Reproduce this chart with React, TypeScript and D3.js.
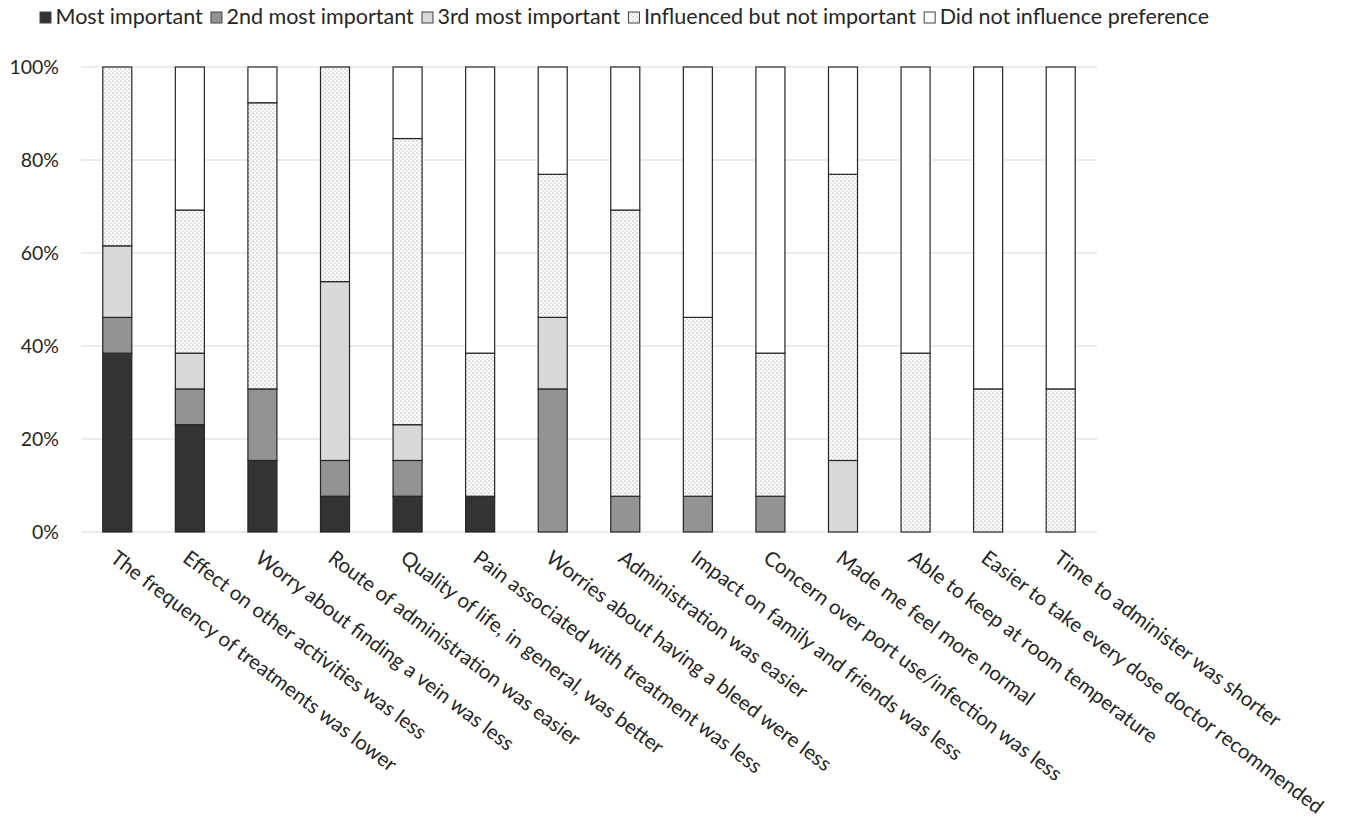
import React from "react";
import * as d3 from "d3";

const categories = [
  "The frequency of treatments was lower",
  "Effect on other activities was less",
  "Worry about finding a vein was less",
  "Route of administration was easier",
  "Quality of life, in general, was better",
  "Pain associated with treatment was less",
  "Worries about having a bleed were less",
  "Administration was easier",
  "Impact on family and friends was less",
  "Concern over port use/infection was less",
  "Made me feel more normal",
  "Able to keep at room temperature",
  "Easier to take every dose doctor recommended",
  "Time to administer was shorter",
];

const seriesNames = [
  "Most important",
  "2nd most important",
  "3rd most important",
  "Influenced but not important",
  "Did not influence preference",
];

// counts out of 13 respondents
const mostImportant = [5, 3, 2, 1, 1, 1, 0, 0, 0, 0, 0, 0, 0, 0];
const secondImportant = [1, 1, 2, 1, 1, 0, 4, 1, 1, 1, 0, 0, 0, 0];
const thirdImportant = [2, 1, 0, 5, 1, 0, 2, 0, 0, 0, 2, 0, 0, 0];
const influenced = [5, 4, 8, 6, 8, 4, 4, 8, 5, 4, 8, 5, 4, 4];
const didNotInfluence = [0, 4, 1, 0, 2, 8, 3, 4, 7, 8, 3, 8, 9, 9];

const yTicks = [0, 0.2, 0.4, 0.6, 0.8, 1];

const fills = ["#333333", "#939393", "#d9d9d9", "url(#dots)", "#ffffff"];

function measure(text: string, size: number): number {
  try {
    const c = document.createElement("canvas").getContext("2d");
    if (c) {
      c.font = `${size}px Lato`;
      return c.measureText(text).width;
    }
  } catch (e) {}
  return text.length * size * 0.5;
}

export default function App() {
  const W = 1353, H = 825;
  const left = 81, right = 1097, top = 67, bottom = 532;
  const series = [mostImportant, secondImportant, thirdImportant, influenced, didNotInfluence];
  const rows = categories.map((c, i) => {
    const total = series.reduce((s, a) => s + a[i], 0);
    const o: any = { cat: c };
    series.forEach((a, k) => (o[seriesNames[k]] = a[i] / total));
    return o;
  });
  const stacked = d3.stack<any>().keys(seriesNames)(rows);
  const x = d3.scaleBand().domain(categories).range([left, right]).paddingInner(0.6).paddingOuter(0.3);
  const y = d3.scaleLinear().domain([0, 1]).range([bottom, top]);
  const fmt = d3.format(".0%");
  const font = "Lato, sans-serif";

  const legendSize = 21.5;
  const legendStart = 39.5, legendEnd = 1209, textOffset = 16;
  const widths = seriesNames.map((n) => measure(n, legendSize));
  const used = widths.reduce((a, b) => a + b, 0) + textOffset * seriesNames.length;
  const gap = Math.max(6, (legendEnd - legendStart - used) / (seriesNames.length - 1));
  let lx = legendStart;
  const legendPos = widths.map((w) => {
    const p = lx;
    lx += textOffset + w + gap;
    return p;
  });

  return (
    <svg width={W} height={H} style={{ display: "block", position: "absolute", left: 0, top: 0, background: "#fff" }} fontFamily={font}>
      <defs>
        <pattern id="dots" width="4" height="4" patternUnits="userSpaceOnUse">
          <rect width="4" height="4" fill="#ffffff" />
          <rect x="0.5" y="0.5" width="1.2" height="1.2" fill="#a0a0a0" />
          <rect x="2.5" y="2.5" width="1.2" height="1.2" fill="#c0c0c0" />
        </pattern>
      </defs>
      {/* legend */}
      {seriesNames.map((n, k) => (
        <g key={n} transform={`translate(${legendPos[k]},0)`}>
          <rect x={0.5} y={12} width={11} height={11} fill={fills[k]} stroke="#404040" strokeWidth={1} />
          <text x={textOffset} y={23.5} fontSize={legendSize} fill="#262626">{n}</text>
        </g>
      ))}
      {/* gridlines */}
      {yTicks.map((t) => (
        <g key={t}>
          <line x1={left} x2={right} y1={y(t)} y2={y(t)} stroke="#d9d9d9" strokeWidth={1} />
          <text x={59} y={y(t)} dy="0.35em" textAnchor="end" fontSize={19.5} fill="#262626">{fmt(t)}</text>
        </g>
      ))}
      {/* bars */}
      {stacked.map((s, k) => (
        <g key={s.key}>
          {s.map((d, i) =>
            d[1] - d[0] > 0 ? (
              <rect
                key={i}
                x={x(categories[i])}
                y={y(d[1])}
                width={x.bandwidth()}
                height={y(d[0]) - y(d[1])}
                fill={fills[k]}
                stroke="#262626"
                strokeWidth={1.2}
              />
            ) : null
          )}
        </g>
      ))}
      {/* x labels */}
      {categories.map((c) => {
        const cx = (x(c) as number) + x.bandwidth() / 2 - 4;
        return (
          <text key={c} transform={`translate(${cx},${bottom + 23}) rotate(37)`} fontSize={20.5} fill="#262626" dy="0.35em">
            {c}
          </text>
        );
      })}
    </svg>
  );
}
